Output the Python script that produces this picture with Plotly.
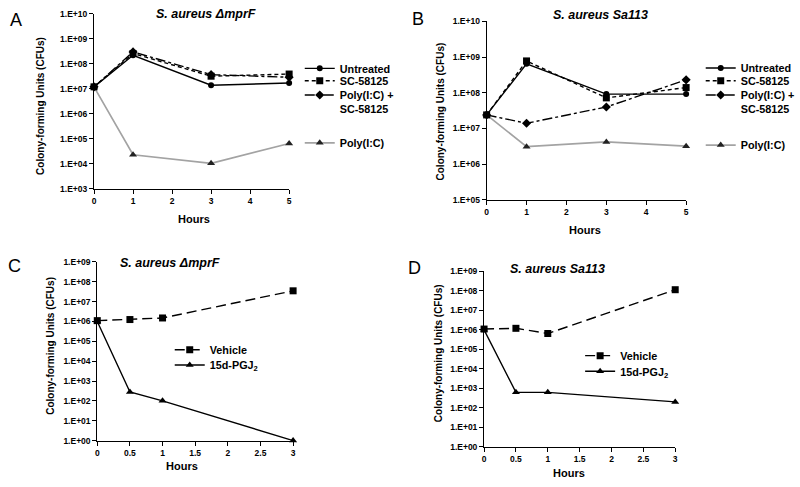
import plotly.graph_objects as go

# ---------------- data ----------------
hours_ab = [0, 1, 3, 5]
a_untreated = [1.2e7, 2.2e8, 1.4e7, 1.7e7]
a_sc58125 = [1.2e7, 2.6e8, 3.2e7, 3.9e7]
a_poly_sc = [1.2e7, 3.0e8, 3.7e7, 2.9e7]
a_poly = [1.2e7, 2.3e4, 1.05e4, 6.5e4]

b_untreated = [2.4e7, 6.5e8, 9.2e7, 9.2e7]
b_sc58125 = [2.4e7, 7.8e8, 7.2e7, 1.4e8]
b_poly_sc = [2.4e7, 1.4e7, 4.0e7, 2.3e8]
b_poly = [2.4e7, 3.1e6, 4.2e6, 3.2e6]

hours_cd = [0, 0.5, 1, 3]
c_vehicle = [1.1e6, 1.25e6, 1.5e6, 3.5e7]
c_pgj2 = [1.0e6, 2.8e2, 1.0e2, 1.0]
d_vehicle = [1.1e6, 1.2e6, 6.5e5, 1.15e8]
d_pgj2 = [1.0e6, 6.2e2, 6.2e2, 2.0e2]

exp_ab_a = [3, 4, 5, 6, 7, 8, 9, 10]
exp_ab_b = [5, 6, 7, 8, 9, 10]
exp_cd = [0, 1, 2, 3, 4, 5, 6, 7, 8, 9]
xticks_ab = [0, 1, 2, 3, 4, 5]
xticks_cd = [0, 0.5, 1, 1.5, 2, 2.5, 3]
xticklabels_cd = ["0", "0.5", "1", "1.5", "2", "2.5", "3"]

titles = ["<b><i>S. aureus ΔmprF</i></b>", "<b><i>S. aureus Sa113</i></b>",
          "<b><i>S. aureus ΔmprF</i></b>", "<b><i>S. aureus Sa113</i></b>"]
panel_letters = ["A", "B", "C", "D"]

FONT = "Liberation Sans, Arial, sans-serif"
W, H = 800, 487


def px(x):
    return x / W


def py(y):
    return 1 - y / H


fig = go.Figure()

LW = 1.4
sty_untreated = dict(line=dict(color="black", width=LW), marker=dict(symbol="circle", size=6, color="black"))
sty_sc = dict(line=dict(color="black", width=LW, dash="4px,3px"), marker=dict(symbol="square", size=7, color="black"))
sty_polysc = dict(line=dict(color="black", width=LW, dash="10px,3px,3px,3px"), marker=dict(symbol="diamond", size=7, color="black"))
sty_poly = dict(line=dict(color="#a3a3a3", width=LW + 0.3), marker=dict(symbol="triangle-up", size=7, color="#222222"))
sty_vehicle = dict(line=dict(color="black", width=LW, dash="10px,5px"), marker=dict(symbol="square", size=7, color="black"))
sty_pgj2 = dict(line=dict(color="black", width=LW), marker=dict(symbol="triangle-up", size=7, color="black"))


def add(x, y, name, sty, xa, ya, legend):
    fig.add_trace(go.Scatter(x=x, y=y, name=name, mode="lines+markers", xaxis=xa, yaxis=ya,
                             legend=legend, showlegend=True, cliponaxis=False, **sty))


# Panel A
add(hours_ab, a_poly, "Poly(I:C)", sty_poly, "x", "y", "legend4")
add(hours_ab, a_untreated, "Untreated", sty_untreated, "x", "y", "legend")
add(hours_ab, a_sc58125, "SC-58125", sty_sc, "x", "y", "legend2")
add(hours_ab, a_poly_sc, "Poly(I:C) +<br>SC-58125", sty_polysc, "x", "y", "legend3")
# Panel B
add(hours_ab, b_poly, "Poly(I:C)", sty_poly, "x2", "y2", "legend8")
add(hours_ab, b_untreated, "Untreated", sty_untreated, "x2", "y2", "legend5")
add(hours_ab, b_sc58125, "SC-58125", sty_sc, "x2", "y2", "legend6")
add(hours_ab, b_poly_sc, "Poly(I:C) +<br>SC-58125", sty_polysc, "x2", "y2", "legend7")
# Panel C
add(hours_cd, c_vehicle, "Vehicle", sty_vehicle, "x3", "y3", "legend9")
add(hours_cd, c_pgj2, "15d-PGJ<sub>2</sub>", sty_pgj2, "x3", "y3", "legend10")
# Panel D
add(hours_cd, d_vehicle, "Vehicle", sty_vehicle, "x4", "y4", "legend11")
add(hours_cd, d_pgj2, "15d-PGJ<sub>2</sub>", sty_pgj2, "x4", "y4", "legend12")

tickfont = dict(family=FONT, size=8.5, color="black", weight="bold")


def xaxis(domain, rng, tickvals, ticktext, anchor):
    return dict(domain=domain, range=rng, tickvals=tickvals, ticktext=ticktext, anchor=anchor,
                showline=True, linecolor="black", linewidth=1, ticks="outside", ticklen=4,
                tickcolor="black", showgrid=False, zeroline=False, tickfont=tickfont)


def yaxis(domain, exps, anchor):
    return dict(domain=domain, type="log", range=[exps[0], exps[-1]],
                tickvals=[10.0 ** e for e in exps], ticktext=["1.E+%02d" % e for e in exps],
                anchor=anchor, showline=True, linecolor="black", linewidth=1, ticks="outside",
                ticklen=4, tickcolor="black", showgrid=False, zeroline=False, tickfont=tickfont)


dom = {
    "A": ((92.7, 289.3), (9.0, 187.7)),
    "B": ((488.3, 689.3), (16.7, 199.0)),
    "C": ((96.0, 293.3), (262.3, 444.7)),
    "D": ((485.7, 678.3), (272.0, 451.0)),
}


def xd(k):
    a, b = dom[k][0]
    return [px(a), px(b)]


def yd(k):
    t, b = dom[k][1]
    return [py(b), py(t)]


layout = dict(
    width=W, height=H, margin=dict(l=0, r=0, t=0, b=0),
    paper_bgcolor="white", plot_bgcolor="white", showlegend=True,
    font=dict(family=FONT, color="black"),
    xaxis=xaxis(xd("A"), [0, 5], xticks_ab, [str(v) for v in xticks_ab], "y"),
    yaxis=yaxis(yd("A"), exp_ab_a, "x"),
    xaxis2=xaxis(xd("B"), [0, 5], xticks_ab, [str(v) for v in xticks_ab], "y2"),
    yaxis2=yaxis(yd("B"), exp_ab_b, "x2"),
    xaxis3=xaxis(xd("C"), [0, 3], xticks_cd, xticklabels_cd, "y3"),
    yaxis3=yaxis(yd("C"), exp_cd, "x3"),
    xaxis4=xaxis(xd("D"), [0, 3], xticks_cd, xticklabels_cd, "y4"),
    yaxis4=yaxis(yd("D"), exp_cd, "x4"),
)

legfont = dict(family=FONT, size=10.8, color="black", weight="bold")


def leg(xline, ycenter, valign="middle"):
    return dict(x=px(xline - 1), y=py(ycenter - 2), xanchor="left", yanchor="middle",
                bgcolor="rgba(0,0,0,0)", borderwidth=0, font=legfont, valign=valign,
                tracegroupgap=0, itemclick=False, itemdoubleclick=False, visible=True)


legend_pos = {
    "legend": (301, 66.7), "legend2": (301, 79.3), "legend3": (301, 101.5), "legend4": (301, 142.7),
    "legend5": (705, 66.3), "legend6": (705, 79.3), "legend7": (705, 101.5), "legend8": (705, 145),
    "legend9": (170, 354), "legend10": (170, 369.5),
    "legend11": (583.5, 360), "legend12": (583.5, 376),
}
for k, (xl, yc) in legend_pos.items():
    layout[k] = leg(xl, yc, "top" if k in ("legend3", "legend7") else "middle")

fig.update_layout(**layout)

ann = []
title_pos = [(206, 9.5), (603, 10.5), (169, 263), (560, 270)]
for t, (x, y) in zip(titles, title_pos):
    ann.append(dict(text=t, x=px(x), y=py(y), xref="paper", yref="paper", showarrow=False,
                    xanchor="center", yanchor="middle", font=dict(family=FONT, size=12.5, color="black")))
letter_pos = [(14, 15.5), (419, 14), (12.5, 266.5), (416, 269)]
for t, (x, y) in zip(panel_letters, letter_pos):
    ann.append(dict(text=t, x=px(x), y=py(y), xref="paper", yref="paper", showarrow=False,
                    xanchor="center", yanchor="middle", font=dict(family=FONT, size=18, color="black")))
ytitle_pos = [(39.3, 103), (441.7, 108.3), (49.3, 348), (440, 355.8)]
for (x, y) in ytitle_pos:
    ann.append(dict(text="<b>Colony-forming Units (CFUs)</b>", x=px(x), y=py(y), xref="paper", yref="paper",
                    showarrow=False, textangle=-90, xanchor="center", yanchor="middle",
                    font=dict(family=FONT, size=10, color="black")))
xtitle_pos = [(193.7, 218.3), (587.5, 230), (181.7, 470.5), (571.7, 478)]
for (x, y) in xtitle_pos:
    ann.append(dict(text="<b>Hours</b>", x=px(x), y=py(y), xref="paper", yref="paper",
                    showarrow=False, xanchor="center", yanchor="middle",
                    font=dict(family=FONT, size=11, color="black")))
fig.update_layout(annotations=ann)

fig.write_html("out.html", config={"displayModeBar": False, "staticPlot": True},
               post_script="document.body.style.margin='0px';document.body.style.overflow='hidden';")
